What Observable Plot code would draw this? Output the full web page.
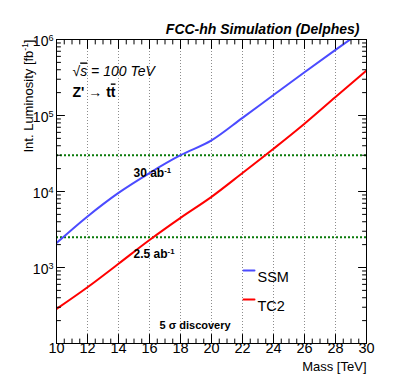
<!DOCTYPE html>
<html><head><meta charset="utf-8">
<script src="https://cdn.jsdelivr.net/npm/d3@7"></script>
<script src="https://cdn.jsdelivr.net/npm/@observablehq/plot@0.6"></script>
<style>
  html,body{margin:0;padding:0;background:#fff}
  #chart{width:399px;height:382px}
</style>
</head><body><div id="chart"></div>
<script>
// ---- data ----
const masses  = [10, 12, 14, 16, 18, 20, 22, 24, 26, 28, 30];           // Z' mass [TeV]
const ssmLumi = [2100, 4700, 9600, 17500, 30000, 47000, 93000, 186000, 370000, 730000, 1420000]; // fb^-1
const tc2Lumi = [285, 550, 1120, 2300, 4500, 8500, 17500, 36500, 78000, 175000, 390000];        // fb^-1
const seriesNames  = ["SSM", "TC2"];
const seriesColors = ["#4b4bff", "#ff0000"];
const refLumi   = [30000, 2500];                    // fb^-1
const refLabels = ["30 ab^{-1}", "2.5 ab^{-1}"];
const xMajorTicks = [10, 12, 14, 16, 18, 20, 22, 24, 26, 28, 30];
const xGridTicks  = [12, 14, 16, 18, 20, 22, 24, 26, 28];
const yLabelExps  = [3, 4, 5, 6];

// ---- derived tables ----
const curves = masses.flatMap((m, i) => [
  {mass: m, lumi: ssmLumi[i], model: seriesNames[0]},
  {mass: m, lumi: tc2Lumi[i], model: seriesNames[1]}
]);
const xMinorTicks = d3.range(10, 30.001, 0.5).filter(v => !xMajorTicks.includes(v));
const yMajorTicks = [1e2, 1e3, 1e4, 1e5, 1e6];
const yMinorTicks = d3.range(2, 6).flatMap(e => d3.range(2, 10).map(k => k * 10 ** e));

const tickShape = {draw(ctx, l) { ctx.moveTo(0, 0); ctx.lineTo(0, -l); }};
const tick = (data, opts) => Plot.vector(data, {shape: tickShape, anchor: "start", stroke: "black", strokeWidth: 1, ...opts});

const FONT = "'Liberation Sans', Arial, Helvetica, sans-serif";

const chart = Plot.plot({
  width: 399, height: 382,
  marginLeft: 56, marginRight: 33, marginTop: 39, marginBottom: 39,
  x: {domain: [10, 30], axis: null},
  y: {type: "log", domain: [100, 1e6], axis: null},
  color: {domain: seriesNames, range: seriesColors},
  style: {fontFamily: FONT, background: "white", color: "black"},
  marks: [
    // vertical dotted grid
    Plot.ruleX(xGridTicks, {x: d => d, stroke: "#8c8c8c", strokeWidth: 1, strokeDasharray: "1,2"}),
    // reference luminosity lines
    Plot.ruleY(refLumi, {y: d => d, stroke: "#087a08", strokeWidth: 2, strokeDasharray: "2,2"}),
    // curves
    Plot.line(curves, {x: "mass", y: "lumi", z: "model", stroke: "model", strokeWidth: 2, curve: "monotone-x", clip: true}),
    // frame
    Plot.frame({stroke: "black", strokeWidth: 1}),
    // ticks: x bottom/top
    tick(xMajorTicks, {x: d => d, frameAnchor: "bottom", rotate: 0, length: 9}),
    tick(xMinorTicks, {x: d => d, frameAnchor: "bottom", rotate: 0, length: 4.5}),
    tick(xMajorTicks, {x: d => d, frameAnchor: "top", rotate: 180, length: 9}),
    tick(xMinorTicks, {x: d => d, frameAnchor: "top", rotate: 180, length: 4.5}),
    // ticks: y left/right
    tick(yMajorTicks, {y: d => d, frameAnchor: "left", rotate: 90, length: 8}),
    tick(yMinorTicks, {y: d => d, frameAnchor: "left", rotate: 90, length: 4}),
    tick(yMajorTicks, {y: d => d, frameAnchor: "right", rotate: -90, length: 8}),
    tick(yMinorTicks, {y: d => d, frameAnchor: "right", rotate: -90, length: 4}),
    // tick labels
    Plot.text(xMajorTicks, {x: d => d, text: d => String(d), frameAnchor: "bottom", dy: 9, fontSize: 14.5}),
    Plot.text(yLabelExps, {y: d => 10 ** d, text: d => `10^{${d}}`, frameAnchor: "left", textAnchor: "end", dx: -3, dy: 2, fontSize: 14}),
    // axis titles
    Plot.text(["Mass [TeV]"], {frameAnchor: "bottom-right", textAnchor: "end", dy: 27, fontSize: 13}),
    Plot.text(["Int. Luminosity [fb^{-1}]"], {frameAnchor: "top-left", textAnchor: "end", rotate: -90, dx: -33, dy: 0, fontSize: 13}),
    // title
    Plot.text(["FCC-hh Simulation (Delphes)"], {frameAnchor: "top-right", textAnchor: "end", dx: -7, dy: -15, fontSize: 14, fontWeight: "bold", fontStyle: "italic"}),
    // in-plot annotations
    Plot.text(["√#{s} = 100 TeV"], {frameAnchor: "top-left", textAnchor: "start", dx: 16, dy: 27, fontSize: 14, fontStyle: "italic"}),
    Plot.text(["Z' → t#{t}"], {frameAnchor: "top-left", textAnchor: "start", dx: 16, dy: 48, fontSize: 14, fontWeight: "bold"}),
    Plot.text([refLabels[0]], {frameAnchor: "top-left", textAnchor: "start", dx: 77, dy: 129, fontSize: 12, fontWeight: "bold"}),
    Plot.text([refLabels[1]], {frameAnchor: "top-left", textAnchor: "start", dx: 77, dy: 210, fontSize: 12, fontWeight: "bold"}),
    Plot.text(["5 σ discovery"], {frameAnchor: "bottom-left", textAnchor: "start", dx: 103, dy: -15, fontSize: 11, fontWeight: "bold"}),
    // legend
    tick([seriesNames[0]], {frameAnchor: "top-left", rotate: 90, length: 11, dx: 187, dy: 231, stroke: seriesColors[0], strokeWidth: 2}),
    tick([seriesNames[1]], {frameAnchor: "top-left", rotate: 90, length: 11, dx: 187, dy: 260, stroke: seriesColors[1], strokeWidth: 2}),
    Plot.text([seriesNames[0]], {frameAnchor: "top-left", textAnchor: "start", dx: 201, dy: 232, fontSize: 14.5}),
    Plot.text([seriesNames[1]], {frameAnchor: "top-left", textAnchor: "start", dx: 201, dy: 261, fontSize: 14.5})
  ]
});

// simple markup: ^{..} superscript, #{..} overline
function markup(svg) {
  const NS = "http://www.w3.org/2000/svg";
  svg.querySelectorAll("text").forEach(t => {
    const s = t.textContent;
    if (!/[\^#]\{/.test(s)) return;
    t.textContent = "";
    const re = /(\^|#)\{([^}]*)\}/g;
    let last = 0, m;
    const add = (txt, kind) => {
      const ts = document.createElementNS(NS, "tspan");
      ts.textContent = txt;
      if (kind === "^") { ts.setAttribute("baseline-shift", "super"); ts.setAttribute("font-size", "65%"); }
      if (kind === "#") { ts.setAttribute("text-decoration", "overline"); }
      t.appendChild(ts);
    };
    while ((m = re.exec(s))) { if (m.index > last) add(s.slice(last, m.index)); add(m[2], m[1]); last = re.lastIndex; }
    if (last < s.length) add(s.slice(last));
  });
}
markup(chart);
document.getElementById("chart").appendChild(chart);
</script>
</body></html>
